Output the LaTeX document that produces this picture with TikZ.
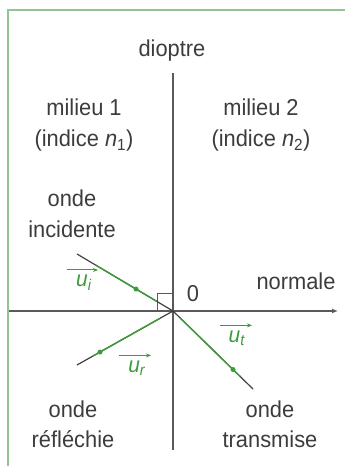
\documentclass[tikz,border=0pt]{standalone}
\usepackage{fontspec}
\setmainfont[FakeStretch=0.95]{Liberation Sans}
\usetikzlibrary{arrows.meta,calc}
\definecolor{raygreen}{HTML}{3E9B3A}
\definecolor{framegreen}{HTML}{93C493}
\definecolor{axisgray}{HTML}{5A5A5A}
\definecolor{textgray}{HTML}{3C3C3C}

\begin{document}
\begin{tikzpicture}[x=1pt,y=1pt,
    lbl/.style={font=\fontsize{23}{31}\selectfont, text=textgray, align=center, inner sep=0pt},
    axis/.style={axisgray, line width=1.8pt},
    ray/.style={black!75, line width=1.2pt},
    raypart/.style={raygreen, line width=1.4pt},
    dotmark/.style={circle, fill=raygreen, inner sep=0pt, minimum size=5pt},
    vecl/.style={font=\fontsize{22}{26}\selectfont, text=raygreen, inner sep=0pt},
    vec/.style={-{Stealth[length=5pt,width=4pt]}, raygreen, line width=1pt},
]
\useasboundingbox (0,0) rectangle (345,466);
% cadre
\draw[framegreen, line width=2pt] (8,0) -- (8,456) -- (345,456);

\coordinate (O) at (173,155);
\coordinate (west) at (9,155);
\coordinate (east) at (338,155);
\coordinate (north) at (173,393);
\coordinate (south) at (173,16);
\coordinate (inc) at (77,212);
\coordinate (refl) at (77,101);
\coordinate (trans) at (253,77);

% dioptre et normale
\draw[axis] (north) -- (south);
\draw[axis, -{Latex[length=6pt,width=5pt]}] (west) -- (east);
\draw[axisgray, line width=0.8pt] ($(O)+(-16,0)$) |- ($(O)+(0,18)$);

% rayons
\draw[ray] (inc) -- (O);
\draw[raypart] ($(inc)!0.19!(O)$) -- ($(inc)!0.83!(O)$);
\node[dotmark] (dinc) at ($(inc)!0.615!(O)$) {};

\draw[ray] (O) -- (refl);
\draw[raypart] ($(refl)!0.17!(O)$) -- ($(refl)!0.86!(O)$);
\node[dotmark] (drefl) at ($(refl)!0.24!(O)$) {};

\draw[ray] (O) -- (trans);
\draw[raypart] ($(O)!0.09!(trans)$) -- ($(O)!0.84!(trans)$);
\node[dotmark] (dtrans) at ($(O)!0.75!(trans)$) {};

% textes
\node[lbl, anchor=base] (dioptre) at (172,409) {dioptre};
\node[lbl, anchor=base] (milieu1) at (84,319) {milieu 1\\(indice \textit{n}\textsubscript{1})};
\node[lbl, anchor=base] (milieu2) at (261,319) {milieu 2\\(indice \textit{n}\textsubscript{2})};
\node[lbl, anchor=base] (incid) at (72,228) {onde\\incidente};
\node[lbl, anchor=base] (reflech) at (73,18) {onde\\réfléchie};
\node[lbl, anchor=base] (transm) at (270,18) {onde\\transmise};
\node[lbl, anchor=base] (zero) at (193,164) {0};
\node[lbl, anchor=base] (normale) at (296,176) {normale};

% vecteurs
\node[vecl] (ui) at (84,183) {\textit{u}\textsubscript{\textit{i}}};
\node[vecl] (ur) at (137,98) {\textit{u}\textsubscript{\textit{r}}};
\node[vecl] (ut) at (237,128) {\textit{u}\textsubscript{\textit{t}}};
\draw[vec] ($(ui.north)+(-17,5)$) -- ($(ui.north)+(14,5)$);
\draw[vec] ($(ur.north)+(-18,5)$) -- ($(ur.north)+(14,5)$);
\draw[vec] ($(ut.north)+(-17,5)$) -- ($(ut.north)+(15,5)$);
\end{tikzpicture}
\end{document}
